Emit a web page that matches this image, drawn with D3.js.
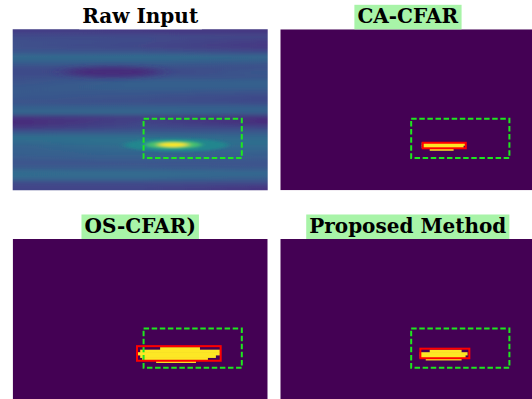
<!DOCTYPE html>
<html>
<head>
<meta charset="utf-8">
<script src="https://cdn.jsdelivr.net/npm/d3@7"></script>
<style>
  body { margin: 0; background: #fff; }
  svg { display: block; }
</style>
</head>
<body>
<svg id="chart"></svg>
<script>
const W = 532, H = 399;

// panel titles and their label backgrounds
const titles = ['Raw Input', 'CA-CFAR', 'OS-CFAR)', 'Proposed Method'];
const titleBg = ['#ffffff', '#a8f4a8', '#a8f4a8', '#a8f4a8'];

// map size in bins (cols x rows)
const nCols = 128, nRows = 64;

// raw input: normalised level per 2-bin row band, at left / middle / right of the map
const rawLeft = [0.18, 0.22, 0.24, 0.24, 0.26, 0.34, 0.30, 0.24, 0.22, 0.24, 0.25, 0.27, 0.28, 0.27, 0.25, 0.30,
                 0.33, 0.15, 0.11, 0.16, 0.27, 0.36, 0.33, 0.30, 0.30, 0.28, 0.25, 0.27, 0.35, 0.33, 0.22, 0.20];
const rawMid  = [0.17, 0.22, 0.22, 0.20, 0.26, 0.35, 0.30, 0.25, 0.20, 0.26, 0.30, 0.30, 0.27, 0.25, 0.24, 0.30,
                 0.33, 0.18, 0.20, 0.22, 0.28, 0.36, 0.38, 0.35, 0.32, 0.30, 0.26, 0.27, 0.34, 0.33, 0.22, 0.20];
const rawRight = [0.16, 0.20, 0.17, 0.16, 0.22, 0.33, 0.28, 0.24, 0.27, 0.25, 0.31, 0.30, 0.25, 0.22, 0.22, 0.30,
                  0.30, 0.14, 0.12, 0.20, 0.28, 0.33, 0.36, 0.33, 0.30, 0.28, 0.25, 0.26, 0.33, 0.30, 0.22, 0.15];

// raw input dark clutter patch: [col, row, radiusCols, radiusRows, level]
const darkPatches = [[50, 17.0, 24, 2.0, 0.12]];
// target response, outer glow to peak: [col, row, radiusCols, radiusRows, level]
const targetGlow = [
  [82, 46.0, 26, 2.6, 0.46],
  [80.5, 45.9, 14, 1.6, 0.70],
  [80.5, 45.9, 7.5, 0.9, 1.0]
];

// ground-truth box [col0, row0, col1, row1]
const gtBox = [65.7, 35.6, 115, 51.2];

// detections: rows of cells [row, col0, col1] and their bounding box
const caCells = [[45, 71, 92], [46, 71, 91], [47, 75, 86]];
const caBox = [71.5, 45.1, 93.1, 47.3];
const osCells = [[43, 74, 93], [44, 64, 103], [45, 62, 103], [46, 64, 101], [47, 65, 97], [48, 72, 91]];
const osBox = [62.4, 42.6, 104.4, 48.4];
const pmCells = [[44, 75, 90], [45, 70, 93], [46, 70, 92], [47, 73, 90]];
const pmBox = [70.3, 43.6, 94.9, 47.4];

const panels = [
  { x0: 12.7, y0: 29.3, kind: 'raw' },
  { x0: 280.3, y0: 29.3, cells: caCells, box: caBox },
  { x0: 12.7, y0: 239, cells: osCells, box: osBox },
  { x0: 280.3, y0: 239, cells: pmCells, box: pmBox }
];
const pw = 255, ph = 161;

const color = d3.interpolateViridis;

const svg = d3.select('#chart').attr('width', W).attr('height', H);
const defs = svg.append('defs');

defs.append('filter').attr('id', 'rowBlur')
  .attr('x', '-10%').attr('y', '-10%').attr('width', '120%').attr('height', '120%')
  .append('feGaussianBlur').attr('stdDeviation', '0 2.2');
defs.append('filter').attr('id', 'patchBlur')
  .attr('x', '-60%').attr('y', '-200%').attr('width', '220%').attr('height', '500%')
  .append('feGaussianBlur').attr('stdDeviation', '9 2.6');
defs.append('filter').attr('id', 'glowBlur')
  .attr('x', '-50%').attr('y', '-100%').attr('width', '200%').attr('height', '300%')
  .append('feGaussianBlur').attr('stdDeviation', '3 1.1');

panels.forEach((p, i) => {
  const x = d3.scaleLinear().domain([0, nCols]).range([p.x0, p.x0 + pw]);
  const y = d3.scaleLinear().domain([0, nRows]).range([p.y0, p.y0 + ph]);

  defs.append('clipPath').attr('id', 'clip' + i)
    .append('rect').attr('x', p.x0).attr('y', p.y0).attr('width', pw).attr('height', ph);

  const g = svg.append('g');
  const body = g.append('g').attr('clip-path', `url(#clip${i})`);

  if (p.kind === 'raw') {
    const bands = rawLeft.map((v, k) => ({ k, l: v, m: rawMid[k], r: rawRight[k] }));
    bands.forEach((b) => {
      const grad = defs.append('linearGradient').attr('id', `band${b.k}`)
        .attr('gradientUnits', 'userSpaceOnUse')
        .attr('x1', x(0)).attr('x2', x(nCols)).attr('y1', 0).attr('y2', 0);
      grad.append('stop').attr('offset', 0).attr('stop-color', color(b.l));
      grad.append('stop').attr('offset', 0.5).attr('stop-color', color(b.m));
      grad.append('stop').attr('offset', 1).attr('stop-color', color(b.r));
    });
    const rowsG = body.append('g').attr('filter', 'url(#rowBlur)');
    rowsG.selectAll('rect')
      .data(bands)
      .enter()
      .append('rect')
      .attr('x', x(-4))
      .attr('width', x(nCols + 4) - x(-4))
      .attr('y', (d) => y(d.k === 0 ? -4 : d.k * 2))
      .attr('height', (d) => {
        const top = d.k === 0 ? -4 : d.k * 2;
        const bot = d.k === bands.length - 1 ? nRows + 4 : d.k * 2 + 2;
        return y(bot) - y(top) + 0.5;
      })
      .attr('fill', (d) => `url(#band${d.k})`);

    const blobs = (sel, data, filterId) => sel.append('g').attr('filter', `url(#${filterId})`)
      .selectAll('ellipse')
      .data(data)
      .enter()
      .append('ellipse')
      .attr('cx', (d) => x(d[0]))
      .attr('cy', (d) => y(d[1]))
      .attr('rx', (d) => x(d[2]) - x(0))
      .attr('ry', (d) => y(d[3]) - y(0))
      .attr('fill', (d) => color(d[4]));
    blobs(body, darkPatches, 'patchBlur');
    blobs(body, targetGlow, 'glowBlur');
  } else {
    body.append('rect')
      .attr('x', p.x0).attr('y', p.y0).attr('width', pw).attr('height', ph)
      .attr('fill', color(0));
    body.append('g')
      .selectAll('rect')
      .data(p.cells)
      .enter()
      .append('rect')
      .attr('x', (d) => x(d[1]))
      .attr('y', (d) => y(d[0]))
      .attr('width', (d) => x(d[2] + 1) - x(d[1]))
      .attr('height', (d) => y(d[0] + 1) - y(d[0]) + 0.7)
      .attr('fill', color(1));
  }

  // ground truth box
  body.append('rect')
    .attr('x', x(gtBox[0])).attr('y', y(gtBox[1]))
    .attr('width', x(gtBox[2]) - x(gtBox[0]))
    .attr('height', y(gtBox[3]) - y(gtBox[1]))
    .attr('fill', 'none')
    .attr('stroke', '#1ee81e')
    .attr('stroke-width', 2)
    .attr('stroke-dasharray', '5.5,2.6');

  if (p.box) {
    body.append('rect')
      .attr('x', x(p.box[0])).attr('y', y(p.box[1]))
      .attr('width', x(p.box[2]) - x(p.box[0]))
      .attr('height', y(p.box[3]) - y(p.box[1]))
      .attr('fill', 'none')
      .attr('stroke', '#ff0000')
      .attr('stroke-width', 2);
  }

  // title with a background box
  const tg = svg.append('g');
  const bgRect = tg.append('rect').attr('fill', titleBg[i]);
  const txt = tg.append('text')
    .attr('x', p.x0 + pw / 2)
    .attr('y', p.y0 - 6)
    .attr('text-anchor', 'middle')
    .attr('font-family', '"DejaVu Serif", serif')
    .attr('font-weight', 'bold')
    .attr('font-size', 20)
    .attr('fill', '#000')
    .text(titles[i]);
  const bb = txt.node().getBBox();
  bgRect.attr('x', bb.x - 3).attr('width', bb.width + 6)
    .attr('y', p.y0 - 24.5).attr('height', 24.5);
});
</script>
</body>
</html>
